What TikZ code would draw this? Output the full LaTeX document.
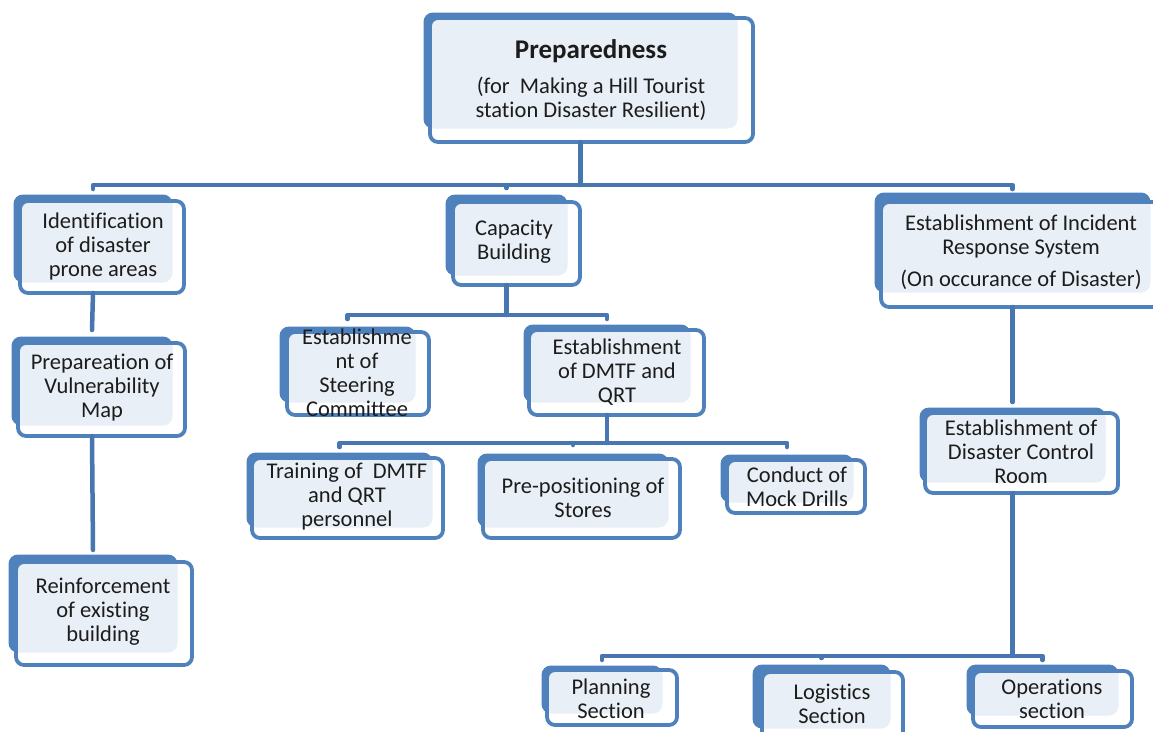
\documentclass[tikz,border=0pt]{standalone}
\usepackage{fontspec}
\setmainfont{Carlito}[Ligatures={NoCommon}]
\usetikzlibrary{calc}
\definecolor{boxblue}{HTML}{4F81BD}
\definecolor{lineblue}{HTML}{4776B0}
\definecolor{txtcol}{HTML}{1C1C1C}
\tikzset{
  backbox/.style={fill=boxblue, draw=boxblue, line width=1pt, rounded corners=9pt, inner sep=0pt, outer sep=0pt},
  frontbox/.style={draw=boxblue, line width=3.8pt, fill=white, fill opacity=0.88, rounded corners=8pt, inner sep=0pt, outer sep=0pt},
  txt/.style={align=center, font=\fontsize{22.5}{24}\selectfont, text=txtcol, inner sep=0pt},
  titletxt/.style={align=center, font=\fontsize{27}{28}\selectfont\bfseries, text=txtcol, inner sep=0pt},
  conn/.style={draw=lineblue, line width=4.5pt, line cap=round, line join=round}
}
\newcommand{\mkbox}[9]{%
  \node[backbox, minimum width={#4-#2}, minimum height={#5-#3}] (#1B) at ({(#2+#4)/2},{(#3+#5)/2}) {};
  \node[frontbox, minimum width={#8-#6}, minimum height={#9-#7}] (#1) at ({(#6+#8)/2},{(#7+#9)/2}) {};
}
\begin{document}
\begin{tikzpicture}[x=1pt,y=-1pt]
\useasboundingbox (0,0) rectangle (1153,731);
\clip (0,0) rectangle (1153,731);

% boxes
\mkbox{prep}{424}{13}{737}{128}{430}{18}{753}{142}
\mkbox{iden}{14}{195}{172}{282}{20}{201}{184}{293}
\mkbox{vuln}{12}{337}{172}{425}{18}{343}{185}{436}
\mkbox{rein}{9}{555}{177}{652}{16}{562}{192}{665}
\mkbox{cap}{446}{195}{567}{275}{453}{202}{580}{285}
\mkbox{steer}{280}{327}{415}{402}{287}{332}{429}{415}
\mkbox{dmtf}{524}{325}{690}{402}{529}{330}{704}{415}
\mkbox{train}{247}{453}{432}{527}{252}{458}{443}{538}
\mkbox{store}{478}{454}{668}{527}{483}{459}{680}{538}
\mkbox{mock}{721}{455}{853}{502}{727}{460}{865}{513}
\mkbox{irs}{875}{193}{1150}{292}{881}{202}{1165}{307}
\mkbox{dcr}{920}{408}{1105}{482}{925}{413}{1118}{493}
\mkbox{plan}{542}{666}{662}{713}{547}{670}{677}{725}
\mkbox{logi}{753}{665}{890}{728}{762}{672}{903}{745}
\mkbox{oper}{967}{665}{1118}{715}{973}{671}{1132}{727}

% texts
\node[titletxt] (prepT) at (591,51) {Preparedness};
\node[txt] (prepS) at (591,99) {(for\ \ Making a Hill Tourist\\station Disaster Resilient)};
\node[txt] (idenT) at (103,246) {Identification\\of disaster\\prone areas};
\node[txt] (vulnT) at (102,388) {Prepareation of\\Vulnerability\\Map};
\node[txt] (reinT) at (103,612) {Reinforcement\\of existing\\building};
\node[txt] (capT) at (514,242) {Capacity\\Building};
\node[txt] (steerT) at (357,373) {Establishme\\nt of\\Steering\\Committee};
\node[txt] (dmtfT) at (617,372) {Establishment\\of DMTF and\\QRT};
\node[txt] (trainT) at (347,497) {Training of\ \ DMTF\\and QRT\\personnel};
\node[txt] (storeT) at (583,497.5) {Pre-positioning of\\Stores};
\node[txt] (mockT) at (797,486.5) {Conduct of\\Mock Drills};
\node[txt] (irsT) at (1021,236.5) {Establishment of Incident\\Response System};
\node[txt] (irsS) at (1021,280) {(On occurance of Disaster)};
\node[txt] (dcrT) at (1021,452) {Establishment of\\Disaster Control\\Room};
\node[txt] (planT) at (611,698.5) {Planning\\Section};
\node[txt] (logiT) at (832,703.5) {Logistics\\Section};
\node[txt] (operT) at (1052,698.5) {Operations\\section};

% bar levels
\coordinate (bar0) at (0,185);
\coordinate (bar1) at (0,315);
\coordinate (bar2) at (0,443);
\coordinate (bar3) at (0,656);

% connectors
\draw[conn] (prepB.south |- prep.south) -- (prepB.south |- bar0);
\draw[conn] ($(idenB.north |- bar0)+(0,4)$) -- (idenB.north |- bar0) -- (irsB.north |- bar0) -- ($(irsB.north |- bar0)+(0,4)$);
\draw[conn] (capB.north |- bar0) -- ($(capB.north |- bar0)+(0,3)$);

\draw[conn] (idenB.south |- iden.south) -- ($(vulnB.north)+(0,-7)$);
\draw[conn] (vulnB.south |- vuln.south) -- ($(reinB.north)+(0,-5)$);

\draw[conn] (capB.south |- cap.south) -- (capB.south |- bar1);
\draw[conn] ($(steerB.north |- bar1)+(0,4)$) -- (steerB.north |- bar1) -- (dmtfB.north |- bar1) -- ($(dmtfB.north |- bar1)+(0,4)$);

\draw[conn] (dmtfB.south |- dmtf.south) -- (dmtfB.south |- bar2);
\draw[conn] ($(trainB.north |- bar2)+(0,4)$) -- (trainB.north |- bar2) -- (mockB.north |- bar2) -- ($(mockB.north |- bar2)+(0,4)$);
\draw[conn] (storeB.north |- bar2) -- ($(storeB.north |- bar2)+(0,2)$);

\draw[conn] (irsB.south |- irs.south) -- ($(dcrB.north)+(0,-6)$);
\draw[conn] (dcrB.south |- dcr.south) -- (dcrB.south |- bar3);
\draw[conn] ($(planB.north |- bar3)+(0,4)$) -- (planB.north |- bar3) -- (operB.north |- bar3) -- ($(operB.north |- bar3)+(0,4)$);
\draw[conn] (logiB.north |- bar3) -- ($(logiB.north |- bar3)+(0,2)$);
\end{tikzpicture}
\end{document}
